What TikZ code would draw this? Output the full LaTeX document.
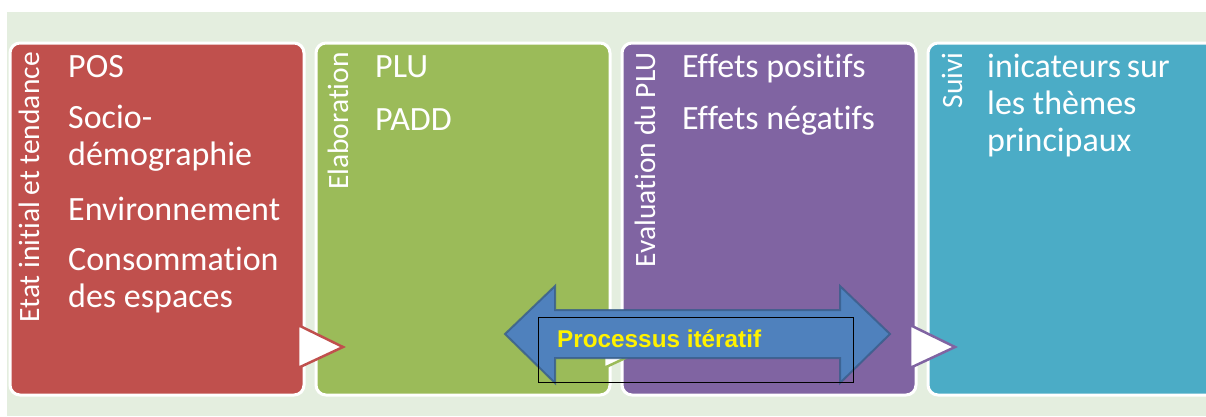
\documentclass[tikz,border=0pt]{standalone}
\usepackage{fontspec}
\setmainfont{Carlito}[Ligatures=NoCommon]
\newfontfamily\arialfont{Liberation Sans}
\usetikzlibrary{positioning}
\definecolor{pageback}{HTML}{E4EEDF}
\definecolor{rougephase}{HTML}{C0504D}
\definecolor{vertphase}{HTML}{9BBB59}
\definecolor{violetphase}{HTML}{8064A2}
\definecolor{bleuphase}{HTML}{4BACC6}
\definecolor{flechebleu}{HTML}{4F81BD}
\definecolor{flechebord}{HTML}{385D8A}
\tikzset{
  panel/.style={rectangle, rounded corners=10pt, draw=white, line width=3pt,
    minimum width=294pt, minimum height=352pt, inner sep=0pt},
  phase/.style={rotate=90, anchor=base east, inner sep=0pt, text=white,
    font=\fontsize{29.5}{35}\selectfont},
  item/.style={anchor=base west, inner sep=0pt, text=white,
    font=\fontsize{34}{38}\selectfont},
  chevron/.style={fill=white, line width=2.5pt, line join=miter}
}
\begin{document}
\begin{tikzpicture}[x=1pt,y=-1pt]
  % Frame
  \useasboundingbox (0,0) rectangle (1206,416);
  \clip (0,0) rectangle (1206,416);
  \fill[pageback] (7,12) rectangle (1206,416);
  % Panels and vertical titles
  \foreach \n/\col/\cx/\off/\ttl in {etat/rougephase/157/29/Etat initial et tendance,
      elab/vertphase/463/32/Elaboration,
      eval/violetphase/769/33/Evaluation du PLU,
      suivi/bleuphase/1075/34/Suivi} {
    \node[panel, fill=\col] (\n) at (\cx,219) {};
    \node[phase] (\n-ttl) at (\cx-147+\off,52) {\ttl};
  };
  % Chevrons between panels
  \foreach \col/\cx in {rougephase/157,vertphase/463,violetphase/769} {
    \draw[chevron, draw=\col] (\cx+141,325) -- (\cx+186,347) -- (\cx+141,368) -- cycle;
  };
  % Items
  \foreach \y/\t [count=\i] in {77/POS,128/Socio-,165/démographie,220/Environnement,
      270/Consommation,307/des espaces} {
    \node[item] (etat-\i) at (68,\y) {\t};
  };
  \foreach \y/\t [count=\i] in {77/PLU,130/PADD} {
    \node[item] (elab-\i) at (375,\y) {\t};
  };
  \foreach \y/\t [count=\i] in {77/Effets positifs,129/Effets négatifs} {
    \node[item] (eval-\i) at (682,\y) {\t};
  };
  \foreach \y/\t [count=\i] in {77/inicateurs\hspace{-2pt} sur,114/les thèmes,151/principaux} {
    \node[item] (suivi-\i) at (987,\y) {\t};
  };
  % Double arrow
  \draw[fill=flechebleu, draw=flechebord, draw opacity=0.8, line width=2pt]
    (505,334) -- (555,286) -- (555,310) -- (840,310) -- (840,286) -- (890,334)
    -- (840,383) -- (840,358) -- (555,358) -- (555,383) -- cycle;
  \node[draw=black, line width=1pt, minimum width=315pt, minimum height=65pt,
    inner sep=0pt] (iterbox) at (695.5,349.5) {};
  \node[anchor=base west, inner sep=0pt, text=yellow,
    font=\arialfont\bfseries\fontsize{24.3}{28}\selectfont] (iter) at (557,347) {Processus itératif};
\end{tikzpicture}
\end{document}
